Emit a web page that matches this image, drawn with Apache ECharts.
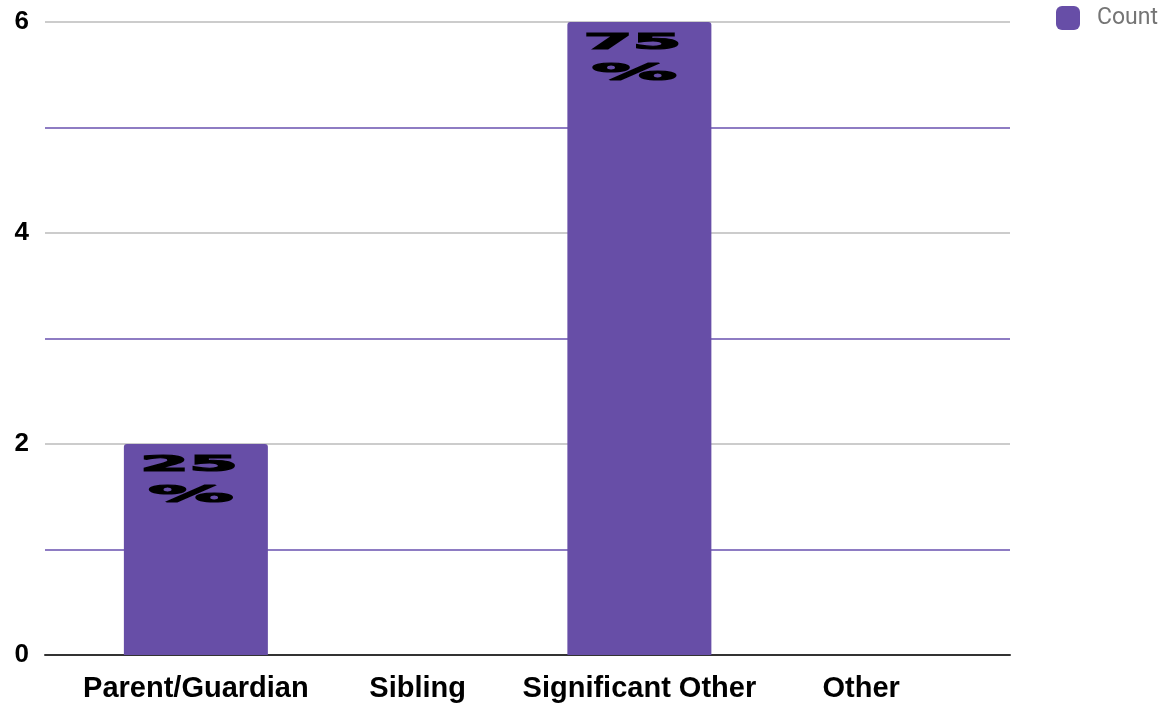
<!DOCTYPE html>
<html>
<head>
<meta charset="utf-8">
<script src="https://cdn.jsdelivr.net/npm/echarts@6/dist/echarts.min.js"></script>
<style>
html,body{margin:0;padding:0;background:#fff;}
#chart{width:1164px;height:705px;}
</style>
</head>
<body>
<div id="chart"></div>
<script>
const categories = ['Parent/Guardian', 'Sibling', 'Significant Other', 'Other'];
const counts = [2, 0, 6, 0];
const percentLabels = ['25', '', '75', ''];
const yTickLabels = [0, 2, 4, 6];
const seriesName = 'Count';

const chart = echarts.init(document.getElementById('chart'));

const labelData = [];
counts.forEach((v, i) => { if (percentLabels[i]) labelData.push([i, v, percentLabels[i]]); });

const option = {
  animation: false,
  legend: {
    data: [seriesName],
    left: 1051, top: 1,
    itemWidth: 24, itemHeight: 24,
    icon: 'roundRect',
    itemGap: 0,
    textStyle: { color: '#757575', fontSize: 23, fontFamily: 'Roboto', padding: [3, 0, 0, 12] }
  },
  grid: [
    { left: 45, right: 154, top: 22, bottom: 50 },
    { left: 85, right: 192, top: 22, bottom: 50 }
  ],
  xAxis: [
    { gridIndex: 0, type: 'value', min: 0, max: 1,
      axisLine: { show: true, onZero: false, lineStyle: { color: '#333', width: 2 } },
      axisTick: { show: false }, axisLabel: { show: false }, splitLine: { show: false } },
    { gridIndex: 1, type: 'category', data: categories,
      axisLine: { show: false }, axisTick: { show: false },
      axisLabel: { interval: 0, color: '#000', fontWeight: 'bold', fontSize: 29, fontFamily: 'Liberation Sans', margin: 19 } }
  ],
  yAxis: [
    { gridIndex: 0, type: 'value', min: 0, max: 6, interval: 1,
      axisLine: { show: false }, axisTick: { show: false },
      axisLabel: { color: '#000', fontWeight: 'bold', fontSize: 26, fontFamily: 'Liberation Sans', margin: 16,
        formatter: v => yTickLabels.indexOf(v) >= 0 ? String(v) : '' },
      splitLine: { show: true, lineStyle: { color: ['#cccccc', '#8e7cc3'], width: 1.8 } } },
    { gridIndex: 1, type: 'value', min: 0, max: 6, show: false }
  ],
  series: [
    { name: seriesName, type: 'bar', xAxisIndex: 1, yAxisIndex: 1, data: counts,
      barWidth: 144, itemStyle: { color: '#674ea7', borderRadius: [3, 3, 0, 0] } },
    { type: 'custom', xAxisIndex: 1, yAxisIndex: 1, data: labelData, z: 5,
      renderItem: function (params, api) {
        const p = api.coord([api.value(0), api.value(1)]);
        const txt = labelData[params.dataIndex][2];
        return { type: 'group', children: [
          { type: 'text', x: p[0] - 7, y: p[1] + 10, scaleX: 3.2,
            style: { text: txt, font: 'bold 22px "DejaVu Sans"', fill: '#000', stroke: '#000', lineWidth: 1.2, align: 'center', verticalAlign: 'top' } },
          { type: 'text', x: p[0] - 5, y: p[1] + 41, scaleX: 3.7,
            style: { text: '%', font: 'bold 23px "DejaVu Sans"', fill: '#000', stroke: '#000', lineWidth: 1.2, align: 'center', verticalAlign: 'top' } }
        ] };
      } }
  ]
};
chart.setOption(option);
</script>
</body>
</html>
